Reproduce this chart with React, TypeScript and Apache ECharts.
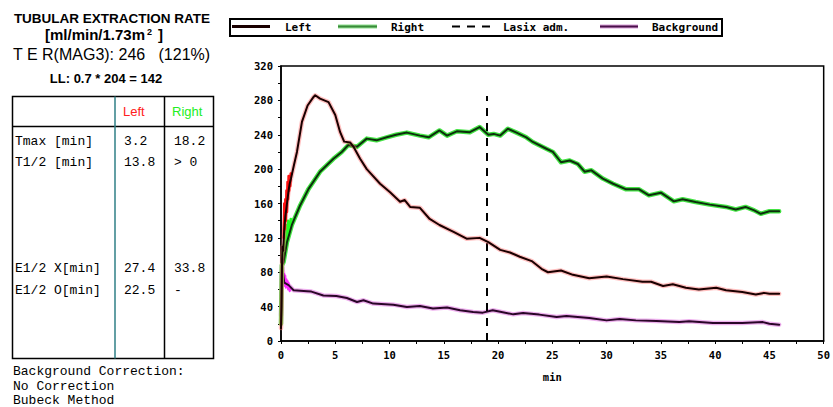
import React, { useEffect, useRef } from "react";
import * as echarts from "echarts";

// ---- data ----
const xTicks = { min: 0, max: 50, interval: 5 };
const yTicks = { min: 0, max: 320, interval: 40 };

const leftT = [0, 0.05, 0.1, 0.15, 0.2, 0.3, 0.4, 0.5, 0.6, 0.7, 0.8, 0.92, 1.2, 1.47, 1.93, 2.45, 3.0, 3.15, 3.6, 4.38, 5.0, 5.45, 5.82, 6.37, 6.68, 7.29, 7.9, 9.13, 10.05, 10.97, 11.4, 11.9, 12.8, 13.7, 14.6, 15.9, 17.1, 18.3, 19.1, 20.2, 21.1, 22.0, 23.1, 24.0, 24.6, 25.8, 26.9, 28.4, 30.0, 31.5, 33.3, 34.1, 35.2, 36.1, 37.3, 38.5, 40.1, 41.0, 42.5, 43.75, 44.5, 45.0, 45.9];
const leftV = [15, 40, 95, 110, 105, 130, 145, 155, 165, 175, 183, 189, 205, 220, 255, 274, 284, 286, 282, 278, 263, 243, 232, 231, 226, 212, 200, 183, 173, 162, 164, 156, 155, 142, 135, 127, 119, 120, 115, 106, 103, 98, 93, 84, 80, 82, 77, 73, 75, 72, 69, 69, 64, 66, 62, 60, 62, 59, 57, 54, 56, 55, 55];
const leftNoiseT = [0.25, 0.3, 0.35, 0.4, 0.45, 0.5, 0.55, 0.6, 0.65, 0.7, 0.75, 0.8, 0.85, 0.9];
const leftNoiseV = [120, 160, 130, 165, 140, 175, 150, 185, 165, 192, 175, 190, 180, 195];

const rightT = [0, 0.08, 0.24, 0.55, 1.0, 1.77, 2.54, 3.6, 4.83, 5.6, 6.2, 7.0, 7.9, 8.8, 9.74, 10.6, 11.6, 12.8, 13.6, 14.6, 15.3, 16.2, 17.4, 18.3, 19.1, 19.6, 20.2, 20.9, 21.7, 22.6, 23.2, 24.4, 25.05, 25.8, 26.6, 27.35, 27.97, 28.6, 29.65, 30.6, 31.8, 33.0, 33.9, 35.0, 36.2, 37.0, 38.2, 39.5, 41.0, 41.9, 42.8, 43.6, 44.2, 45.0, 45.9];
const rightV = [20, 88, 92, 115, 135, 158, 177, 197, 212, 220, 228, 226, 235.5, 233.5, 237, 240, 242.5, 239, 237, 245, 239, 244, 243, 249, 240, 241, 239, 247, 242.5, 237, 231.6, 224, 220, 208, 210, 206, 197, 198.6, 189, 183, 176.5, 176.5, 169.5, 172.6, 162.5, 165, 161.7, 158.7, 156, 153, 156, 152, 148, 151, 151];
const rightNoiseT = [0.1, 0.15, 0.2, 0.25, 0.3, 0.35, 0.4, 0.45, 0.5, 0.55, 0.6, 0.65, 0.7, 0.75, 0.8, 0.9];
const rightNoiseV = [92, 105, 95, 112, 100, 120, 108, 128, 112, 135, 118, 140, 125, 138, 130, 142];

const bgT = [0, 0.1, 0.3, 0.7, 1.16, 2.4, 2.8, 3.9, 5.1, 6.07, 7.0, 7.6, 8.5, 10.35, 11.6, 12.8, 14.0, 15.3, 16.5, 17.7, 18.6, 19.5, 20.2, 21.4, 22.3, 23.8, 25.4, 26.3, 28.4, 30.0, 31.2, 32.7, 34.6, 36.7, 37.6, 39.8, 42.5, 44.4, 45.0, 45.9];
const bgV = [30, 88, 68, 65, 59, 58, 57.5, 53, 52.4, 50, 45.4, 47.4, 43.5, 42.3, 39.6, 40.7, 37.7, 38.9, 35.7, 33.7, 33, 35.7, 34, 31, 32.6, 30.7, 28, 29, 26.8, 24, 25.6, 24, 23.3, 22, 23, 21, 21, 22, 20, 19];
const bgNoiseT = [0.1, 0.15, 0.2, 0.25, 0.3, 0.35, 0.4, 0.45, 0.5, 0.55, 0.6, 0.65, 0.7, 0.8, 0.9];
const bgNoiseV = [88, 70, 80, 66, 78, 64, 76, 62, 72, 63, 70, 60, 68, 58, 62];

const lasixT = 19;
const lasixTop = 285;

const legendLabels = ["Left", "Right", "Lasix adm.", "Background"];
const tableHeaders = ["Left", "Right"];
const tableRowLabels = ["Tmax [min]", "T1/2 [min]", "E1/2 X[min]", "E1/2 O[min]"];
const tableLeftVals = ["3.2", "13.8", "27.4", "22.5"];
const tableRightVals = ["18.2", "> 0", "33.8", "-"];
const footerLines = ["Background Correction:", "No Correction", "Bubeck Method"];

const zip = (t: number[], v: number[]) => t.map((x, i) => [x, v[i]]);

const MONO_B = "bold 11px 'DejaVu Sans Mono', monospace";
const COUR = "13px 'Liberation Mono', 'Courier New', monospace";

function line(data: number[][], color: string, width: number, z: number, opacity = 1) {
  return {
    type: "line",
    data,
    symbol: "none",
    silent: true,
    z,
    lineStyle: { color, width, opacity, join: "round", cap: "round" },
    itemStyle: { color },
    emphasis: { disabled: true },
  };
}

export default function App() {
  const ref = useRef<HTMLDivElement>(null);
  useEffect(() => {
    if (!ref.current) return;
    const chart = echarts.init(ref.current, undefined, { renderer: "svg" });

    const txt = (text: string, x: number, y: number, font: string, fill = "#000", align = "left") => ({
      type: "text",
      silent: true,
      style: { text, x, y, font, fill, textAlign: align, textVerticalAlign: "middle", verticalAlign: "middle" },
    });
    const ln = (x1: number, y1: number, x2: number, y2: number, stroke: string, lineWidth: number, lineDash?: number[]) => ({
      type: "line",
      silent: true,
      shape: { x1, y1, x2, y2 },
      style: { stroke, lineWidth, lineDash },
    });

    const rowY = [141, 162, 268, 290];
    const graphics: any[] = [
      // title block
      txt("TUBULAR EXTRACTION RATE", 112, 18, "bold 13.5px 'Liberation Sans', Arial, sans-serif", "#000", "center"),
      txt("[ml/min/1.73m", 45, 34.5, "bold 15px 'Liberation Sans', Arial, sans-serif"),
      txt("2", 147, 31.5, "bold 9px 'Liberation Sans', Arial, sans-serif"),
      txt("]", 158, 34.5, "bold 15px 'Liberation Sans', Arial, sans-serif"),
      txt("T E R(MAG3): 246   (121%)", 13, 54.5, "16px 'Liberation Sans', Arial, sans-serif"),
      txt("LL: 0.7 * 204 = 142", 106, 78, "bold 13px 'Liberation Sans', Arial, sans-serif", "#000", "center"),
      // table
      { type: "rect", silent: true, shape: { x: 12.5, y: 96.5, width: 201, height: 262 }, style: { fill: "none", stroke: "#000", lineWidth: 1.5 } },
      ln(12.5, 126.5, 213.5, 126.5, "#000", 1.5),
      ln(115, 96.5, 115, 358.5, "#2f7f86", 1.5),
      ln(164.5, 96.5, 164.5, 358.5, "#000", 1.5),
      txt(tableHeaders[0], 123, 111, "13px 'Liberation Sans', Arial, sans-serif", "#ff2020"),
      txt(tableHeaders[1], 172, 111, "13px 'Liberation Sans', Arial, sans-serif", "#22ee22"),
      ...tableRowLabels.map((s, i) => txt(s, 15, rowY[i], COUR)),
      ...tableLeftVals.map((s, i) => txt(s, 124, rowY[i], COUR)),
      ...tableRightVals.map((s, i) => txt(s, 174, rowY[i], COUR)),
      ...footerLines.map((s, i) => txt(s, 13, [371, 386, 400][i], "13px 'Liberation Mono', 'Courier New', monospace")),
      // legend
      { type: "rect", silent: true, shape: { x: 230, y: 19, width: 492, height: 17 }, style: { fill: "#fff", stroke: "#000", lineWidth: 2 } },
      ln(232, 26.5, 270, 26.5, "#1a0000", 3),
      txt(legendLabels[0], 285, 27.5, MONO_B),
      ln(338, 26.5, 377, 26.5, "#8ee08e", 4),
      ln(338, 26.5, 377, 26.5, "#3a8a3a", 2),
      txt(legendLabels[1], 391, 27.5, MONO_B),
      ln(452, 26.5, 490, 26.5, "#000", 2, [8, 7]),
      txt(legendLabels[2], 503, 27.5, MONO_B),
      ln(600, 26.5, 638, 26.5, "#d9a0d9", 4),
      ln(600, 26.5, 638, 26.5, "#4a104a", 2),
      txt(legendLabels[3], 652, 27.5, MONO_B),
    ];

    const axisCommon = {
      type: "value",
      axisLine: { show: true, lineStyle: { color: "#000", width: 1.5 } },
      axisTick: { show: true, length: 3, lineStyle: { color: "#000", width: 1 } },
      minorTick: { show: true, splitNumber: 2, length: 3, lineStyle: { color: "#000", width: 1 } },
      splitLine: { show: false },
      minorSplitLine: { show: false },
      axisLabel: { color: "#000", fontFamily: "'DejaVu Sans Mono', monospace", fontWeight: "bold", fontSize: 10.5 },
    };

    chart.setOption({
      animation: false,
      backgroundColor: "#fff",
      grid: { left: 281, right: 8, top: 66, bottom: 66, show: true, borderColor: "#000", borderWidth: 1.5, backgroundColor: "transparent" },
      xAxis: {
        ...axisCommon,
        min: xTicks.min,
        max: xTicks.max,
        interval: xTicks.interval,
        name: "min",
        nameLocation: "middle",
        nameGap: 30,
        nameTextStyle: { color: "#000", fontFamily: "'DejaVu Sans Mono', monospace", fontWeight: "bold", fontSize: 10.5 },
        axisLabel: { ...axisCommon.axisLabel, margin: 8 },
      },
      yAxis: {
        ...axisCommon,
        min: yTicks.min,
        max: yTicks.max,
        interval: yTicks.interval,
        axisLabel: { ...axisCommon.axisLabel, margin: 8 },
      },
      series: [
        line(zip(bgT, bgV), "#e070e0", 4.5, 1, 0.55),
        line(zip(bgNoiseT, bgNoiseV), "#ff30ff", 2, 2),
        line(zip(bgT, bgV), "#2a0628", 2, 3),
        line(zip(rightT, rightV), "#30e030", 4.5, 4, 0.9),
        line(zip(rightNoiseT, rightNoiseV), "#20ff20", 2.5, 5),
        line(zip(rightT, rightV), "#0d2e0d", 2, 6),
        line(zip(leftT, leftV), "#ff7070", 4.5, 7, 0.45),
        line(zip(leftNoiseT, leftNoiseV), "#ff1010", 2.5, 8),
        line(zip(leftT, leftV), "#1a0000", 2, 9),
        {
          type: "line",
          data: [],
          silent: true,
          markLine: {
            silent: true,
            symbol: "none",
            label: { show: false },
            lineStyle: { color: "#000", width: 2, type: [8, 7] },
            data: [[{ coord: [lasixT, 0] }, { coord: [lasixT, lasixTop] }]],
          },
        },
      ],
      graphic: graphics,
    });
    return () => chart.dispose();
  }, []);
  return <div ref={ref} style={{ position: "absolute", left: 0, top: 0, width: 833, height: 407 }} />;
}
